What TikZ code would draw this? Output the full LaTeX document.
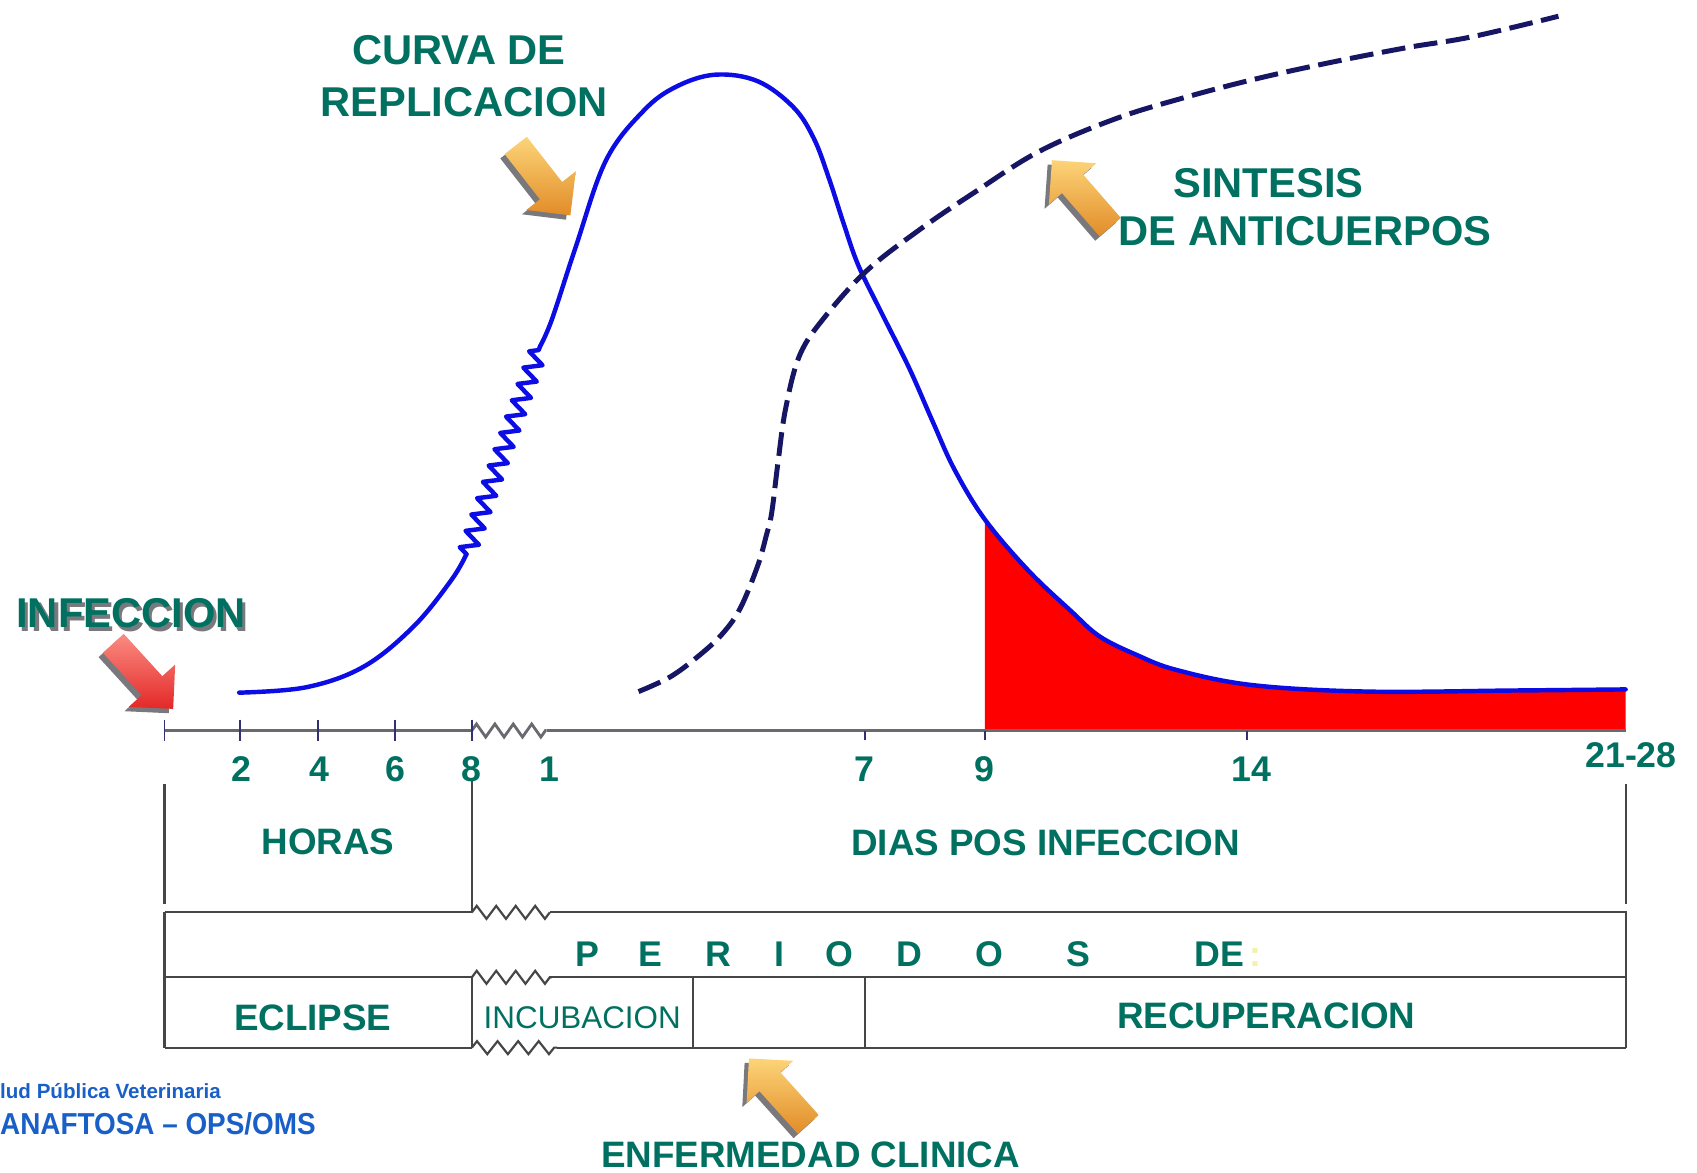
\documentclass[tikz,border=0pt]{standalone}
\usepackage{fontspec}
\setmainfont{Liberation Sans}
\usetikzlibrary{decorations.pathmorphing}
\definecolor{teal1}{RGB}{0,112,96}
\definecolor{curveblue}{RGB}{12,12,228}
\definecolor{navy1}{RGB}{22,22,100}
\definecolor{axisgray}{RGB}{105,105,112}
\definecolor{tickblue}{RGB}{50,50,115}
\definecolor{boxgray}{RGB}{70,70,70}
\definecolor{footblue}{RGB}{25,95,200}
\definecolor{orlight}{RGB}{252,212,120}
\definecolor{ordark}{RGB}{226,140,40}
\definecolor{redlight}{RGB}{250,140,130}
\definecolor{reddark}{RGB}{228,40,40}
\definecolor{shadowgray}{RGB}{120,120,125}
\definecolor{paleyellow}{RGB}{242,242,170}
\tikzset{
  txtbig/.style={text=teal1, font=\fontsize{38.5}{44}\selectfont\bfseries, inner sep=0pt},
  txtmid/.style={text=teal1, font=\fontsize{34}{40}\selectfont\bfseries, inner sep=0pt},
  txtnum/.style={text=teal1, font=\fontsize{33}{38}\selectfont\bfseries, inner sep=0pt},
  txtper/.style={text=teal1, font=\fontsize{33}{38}\selectfont\bfseries, inner sep=0pt, anchor=base},
  curveline/.style={draw=curveblue, line width=4.1pt, line cap=round, line join=round},
  abline/.style={draw=navy1, line width=4.6pt, dash pattern=on 22pt off 8pt},
  axisline/.style={draw=axisgray, line width=2.6pt},
  tickline/.style={draw=tickblue, line width=1.6pt},
  boxline/.style={draw=boxgray, line width=2pt},
  zig/.style={decorate, decoration={zigzag, segment length=18pt, amplitude=6pt}},
  barrow/.pic={\path[pic actions] (0,0) -- (-29,29) -- (-29,13) -- (-82,13) -- (-82,-13) -- (-29,-13) -- (-29,-29) -- cycle;},
  orangearrow/.style={top color=orlight, bottom color=ordark},
  redarrow/.style={top color=redlight, bottom color=reddark},
  shadowarrow/.style={fill=shadowgray}
}
\begin{document}
\begin{tikzpicture}[x=1pt,y=-1pt]
\useasboundingbox (0,0) rectangle (1568,1083);
\fill[white] (0,0) rectangle (1568,1083);

% red area under the tail of the replication curve
\begin{scope}
\clip (910,0) rectangle (1502,675);
\fill[red] plot[smooth, tension=0.6] coordinates {(499,320) (510,295) (532,228) (560,148) (595,102) (625,80) (661,69) (700,75) (733,99) (752,128) (766,165) (779,205) (793,245) (815,290) (840,340) (862,390) (882,434) (910,480) (950,527) (990,565) (1016,588) (1050,605) (1087,619) (1157,633) (1263,639) (1400,638) (1502,637)} -- (1502,675) -- (499,675) -- cycle;
\end{scope}

% axis
\draw[axisline] (152,675) -- (436,675);
\draw[axisline, zig, decoration={segment length=17pt, amplitude=6pt}] (436,675) -- (505,675);
\draw[axisline] (505,675) -- (1502,675);
\foreach \x in {152,222,294,365,436} \draw[tickline] (\x,665) -- (\x,685);
\foreach \x in {799,910,1152} \draw[tickline] (\x,675) -- (\x,684);

% replication curve
\draw[curveline] plot[smooth, tension=0.6] coordinates {(221,640) (283,635) (336,616) (382,579) (417,536) (431,512)};
\draw[curveline, decorate, decoration={zigzag, segment length=16pt, amplitude=8pt}] (431,512) -- (499,320);
\draw[curveline] plot[smooth, tension=0.6] coordinates {(499,320) (510,295) (532,228) (560,148) (595,102) (625,80) (661,69) (700,75) (733,99) (752,128) (766,165) (779,205) (793,245) (815,290) (840,340) (862,390) (882,434) (910,480) (950,527) (990,565) (1016,588) (1050,605) (1087,619) (1157,633) (1263,639) (1400,638) (1502,637)};

% antibody curve
\draw[abline] plot[smooth, tension=0.6] coordinates {(590,639) (620,625) (648,604) (668,585) (684,562) (700,523) (708,495) (713,474) (719,426) (726,377) (739,328) (762,293) (801,250) (850,212) (900,178) (960,140) (1030,110) (1095,90) (1160,73) (1228,58) (1300,44) (1360,34) (1440,15)};

% vertical separators
\draw[boxline] (152,724) -- (152,835);
\draw[boxline] (436,721) -- (436,843);
\draw[boxline] (1502,724) -- (1502,835);

% periods box
\draw[boxline] (152,843) -- (436,843);
\draw[boxline, zig] (436,843) -- (508,843);
\draw[boxline] (508,843) -- (1502,843) -- (1502,968);
\draw[boxline] (152,903) -- (436,903);
\draw[boxline, zig] (436,903) -- (510,903);
\draw[boxline] (510,903) -- (1502,903);
\draw[boxline] (152,968) -- (436,968);
\draw[boxline, zig, decoration={segment length=19pt}] (436,968) -- (515,968);
\draw[boxline] (515,968) -- (1502,968);
\draw[boxline] (152,843) -- (152,968);
\draw[boxline] (436,903) -- (436,968);
\draw[boxline] (640,903) -- (640,968);
\draw[boxline] (799,903) -- (799,968);

% block arrows (shadow first)
\pic[shadowarrow, rotate=-47.6] at (156,659) {barrow};
\pic[redarrow, rotate=-47.6] at (160,655) {barrow};
\pic[shadowarrow, rotate=-52] at (523,203) {barrow};
\pic[orangearrow, rotate=-52] at (527,199) {barrow};
\pic[shadowarrow, rotate=131] at (968,152) {barrow};
\pic[orangearrow, rotate=131] at (972,148) {barrow};
\pic[shadowarrow, rotate=132] at (688,982) {barrow};
\pic[orangearrow, rotate=132] at (692,978) {barrow};

% titles
\node[txtbig] (curva) at (424,46) {CURVA DE};
\node[txtbig] (replic) at (429,94) {REPLICACION};
\node[txtbig] (sint) at (1172,169) {SINTESIS};
\node[txtbig] (antic) at (1206,214) {DE ANTICUERPOS};
\node[txtbig, text=shadowgray] (infsh) at (124,570) {INFECCION};
\node[txtbig] (inf) at (121,567) {INFECCION};

% axis numbers
\node[txtnum] (n2) at (223,711) {2};
\node[txtnum] (n4) at (295,711) {4};
\node[txtnum] (n6) at (365,711) {6};
\node[txtnum] (n8) at (436,711) {8};
\node[txtnum] (n1) at (508,711) {1};
\node[txtnum] (n7) at (799,711) {7};
\node[txtnum] (n9) at (910,711) {9};
\node[txtnum] (n14) at (1156,711) {14};
\node[txtnum] (n2128) at (1507,698) {21-28};

\node[txtmid] (horas) at (303,778) {HORAS};
\node[txtmid] (dias) at (966,779) {DIAS POS INFECCION};

% periods row
\node[txtper] (pP) at (543,893) {P};
\node[txtper] (pE) at (601,893) {E};
\node[txtper] (pR) at (664,893) {R};
\node[txtper] (pI) at (720,893) {I};
\node[txtper] (pO) at (776,893) {O};
\node[txtper] (pD) at (840,893) {D};
\node[txtper] (pO2) at (914,893) {O};
\node[txtper] (pS) at (996,893) {S};
\node[txtper] (pDE) at (1127,893) {DE};
\node[txtper, text=paleyellow] (pcolon) at (1160,893) {:};

\node[txtmid] (eclipse) at (289,940) {ECLIPSE};
\node[text=teal1, font=\fontsize{29}{34}\selectfont, inner sep=0pt] (incub) at (538,940) {INCUBACION};
\node[txtmid] (recup) at (1170,939) {RECUPERACION};
\node[txtmid] (enferm) at (749,1067) {ENFERMEDAD CLINICA};

% footer
\node[anchor=base west, inner sep=0pt, text=footblue, font=\fontsize{19}{22}\selectfont\bfseries] (foot1) at (0,1014.7) {lud Pública Veterinaria};
\node[anchor=base west, inner sep=0pt, text=footblue, font=\fontsize{28}{32}\selectfont\bfseries] (foot2) at (0,1048.7) {\scalebox{0.92}[1]{ANAFTOSA – OPS/OMS}};
\end{tikzpicture}
\end{document}
